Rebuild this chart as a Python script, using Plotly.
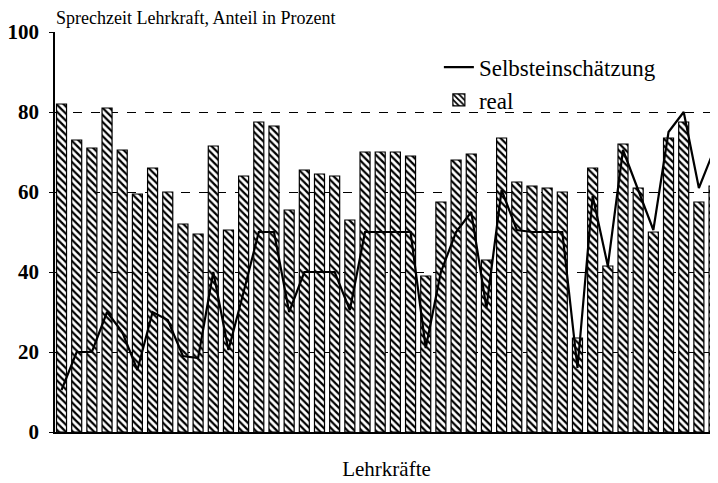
import plotly.graph_objects as go

teachers = list(range(1, 45))
real = [82, 73, 71, 81, 70.5, 59.5, 66, 60, 52, 49.5, 71.5,
        50.5, 64, 77.5, 76.5, 55.5, 65.5, 64.5, 64, 53, 70, 70,
        70, 69, 39, 57.5, 68, 69.5, 43, 73.5, 62.5, 61.5, 61, 60,
        23.5, 66, 41.5, 72, 61, 50, 73.5, 77.5, 57.5, 61.5]
self_est = [10.5, 20, 20, 30, 25, 15.5, 30, 28, 19, 18.5, 40,
            20.5, 35, 50, 50, 30, 40, 40, 40, 30.5, 50, 50,
            50, 50, 21, 40, 50, 55, 31, 60.5, 50.5, 50, 50, 50,
            16, 59, 41.5, 70.5, 60.5, 50.5, 75, 80, 61, 70.5]
y_ticks = [0, 20, 40, 60, 80, 100]

FONT = "Liberation Serif, Times New Roman, serif"

fig = go.Figure()
fig.add_trace(go.Scatter(
    x=teachers, y=self_est, mode="lines", name="Selbsteinschätzung",
    line=dict(color="black", width=2.2),
))
fig.add_trace(go.Bar(
    x=teachers, y=real, name="real",
    marker=dict(color="white", line=dict(color="black", width=1.2),
                pattern=dict(shape="\\", fgcolor="black", bgcolor="white",
                             size=5, solidity=0.45, fillmode="replace")),
))

fig.update_layout(
    width=710, height=475,
    margin=dict(l=47, r=0, t=24, b=51),
    paper_bgcolor="white", plot_bgcolor="white",
    bargap=0.34,
    font=dict(family=FONT, color="black"),
    showlegend=True,
    legend=dict(x=0.579, y=0.966, xanchor="left", yanchor="top",
                bgcolor="rgba(0,0,0,0)", font=dict(size=23, family=FONT),
                traceorder="normal", itemwidth=30, tracegroupgap=0),
    xaxis=dict(range=[0.57, 44.26], showticklabels=False, ticks="",
               showgrid=False, showline=True, linecolor="black", linewidth=1.5,
               zeroline=False,
               title=dict(text="Lehrkräfte", font=dict(size=21, family=FONT), standoff=29)),
    yaxis=dict(range=[0, 100], tickvals=y_ticks, showgrid=True,
               gridcolor="black", griddash="dash", gridwidth=1,
               showline=True, linecolor="black", linewidth=1.5,
               ticks="outside", ticklen=4, tickcolor="black",
               ticklabelstandoff=6,
               zeroline=False,
               tickfont=dict(size=21, family=FONT, weight="bold")),
    annotations=[dict(text="Sprechzeit Lehrkraft, Anteil in Prozent",
                      xref="paper", yref="paper", x=-0.002, y=1.0,
                      xanchor="left", yanchor="bottom", yshift=2, showarrow=False,
                      font=dict(size=18, family=FONT))],
)

fig.write_html("out.html")
